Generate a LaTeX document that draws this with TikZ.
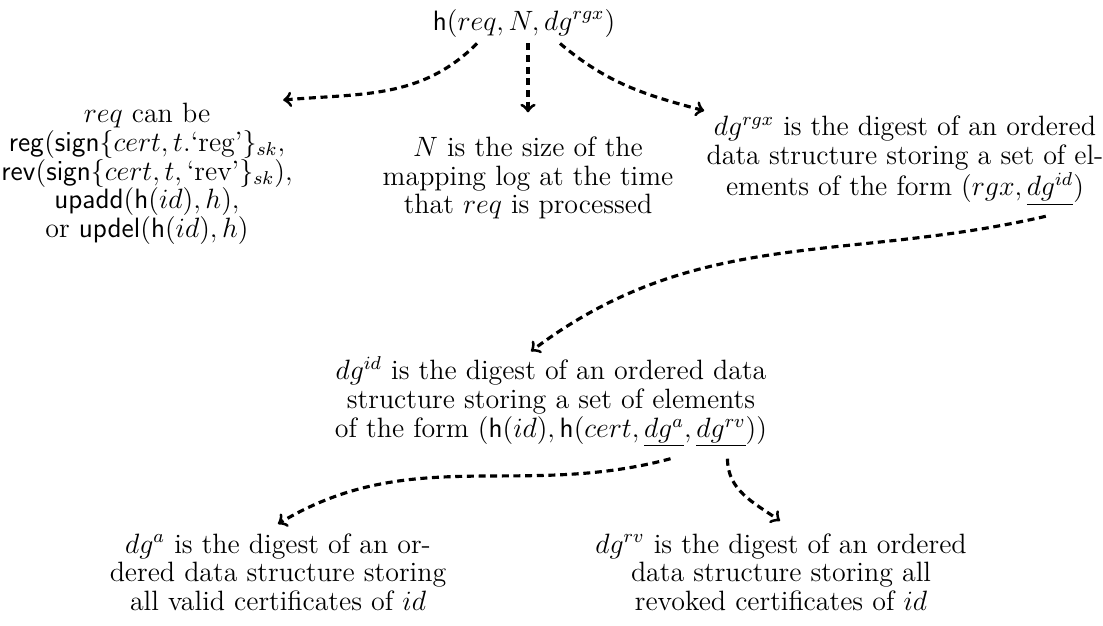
\documentclass[tikz,border=0pt]{standalone}
\usetikzlibrary{calc}
\tikzset{
  txt/.style={align=center, inner sep=0pt, font=\fontsize{12}{12.3}\selectfont},
  link/.style={->, line width=1.35pt, dash pattern=on 3pt off 2pt},
}
\begin{document}
\begin{tikzpicture}[x=0.4292pt, y=0.4292pt]
\useasboundingbox (0,0) rectangle (1103,-625);

% hash of the request
\node[txt, anchor=base] (top) at (524,-30) {$\mathsf{h}(req, N, dg^{rgx})$};

% the three components
\node[txt] (L) at (147,-174) {$req$ can be\\
  $\mathsf{reg}(\mathsf{sign}\{cert, t.\textrm{`reg'}\}_{sk},$\\
  $\mathsf{rev}(\mathsf{sign}\{cert, t, \textrm{`rev'}\}_{sk}),$\\
  $\mathsf{upadd}(\mathsf{h}(id), h),$\\
  or $\mathsf{updel}(\mathsf{h}(id), h)$};
\node[txt] (M) at (528,-178) {$N$ is the size of the\\mapping log at the time\\that $req$ is processed};
\node[txt] (R) at (905,-161) {$dg^{rgx}$ is the digest of an ordered\\data structure storing a set of el-\\ements of the form $(rgx, \underline{dg^{id}})$};

% per-identity digest
\node[txt] (C) at (551,-402) {$dg^{id}$ is the digest of an ordered data\\structure storing a set of elements\\of the form $(\mathsf{h}(id), \mathsf{h}(cert, \underline{dg^{a}}, \underline{dg^{rv}}))$};

% certificate digests
\node[txt] (BL) at (278,-572) {$dg^{a}$ is the digest of an or-\\dered data structure storing\\all valid certificates of $id$};
\node[txt] (BR) at (781,-572) {$dg^{rv}$ is the digest of an ordered\\data structure storing all\\revoked certificates of $id$};

% attachment points under the underlined digests
\coordinate (dgid) at ($(R.south east)+(-58,-10)$);
\coordinate (dga)  at ($(C.south east)+(-97,-11)$);
\coordinate (dgrv) at ($(C.south east)+(-40,-11)$);

\draw[link] ($(top.south)+(-47,-6)$) to[out=225, in=5] ($(L.north east)+(-10,3)$);
\draw[link] ($(top.south)+(4,-6)$) -- ($(M.north)+(0,24)$);
\draw[link] ($(top.south)+(36,-6)$) to[out=-40, in=165] ($(R.north west)+(-2,5)$);
\draw[link] (dgid) to[out=193, in=37] ($(C.north)+(-20,5)$);
\draw[link] (dga) to[out=195, in=31] ($(BL.north)+(0,9)$);
\draw[link] (dgrv) to[out=-90, in=145] ($(BR.north)+(-1,12)$);
\end{tikzpicture}
\end{document}
